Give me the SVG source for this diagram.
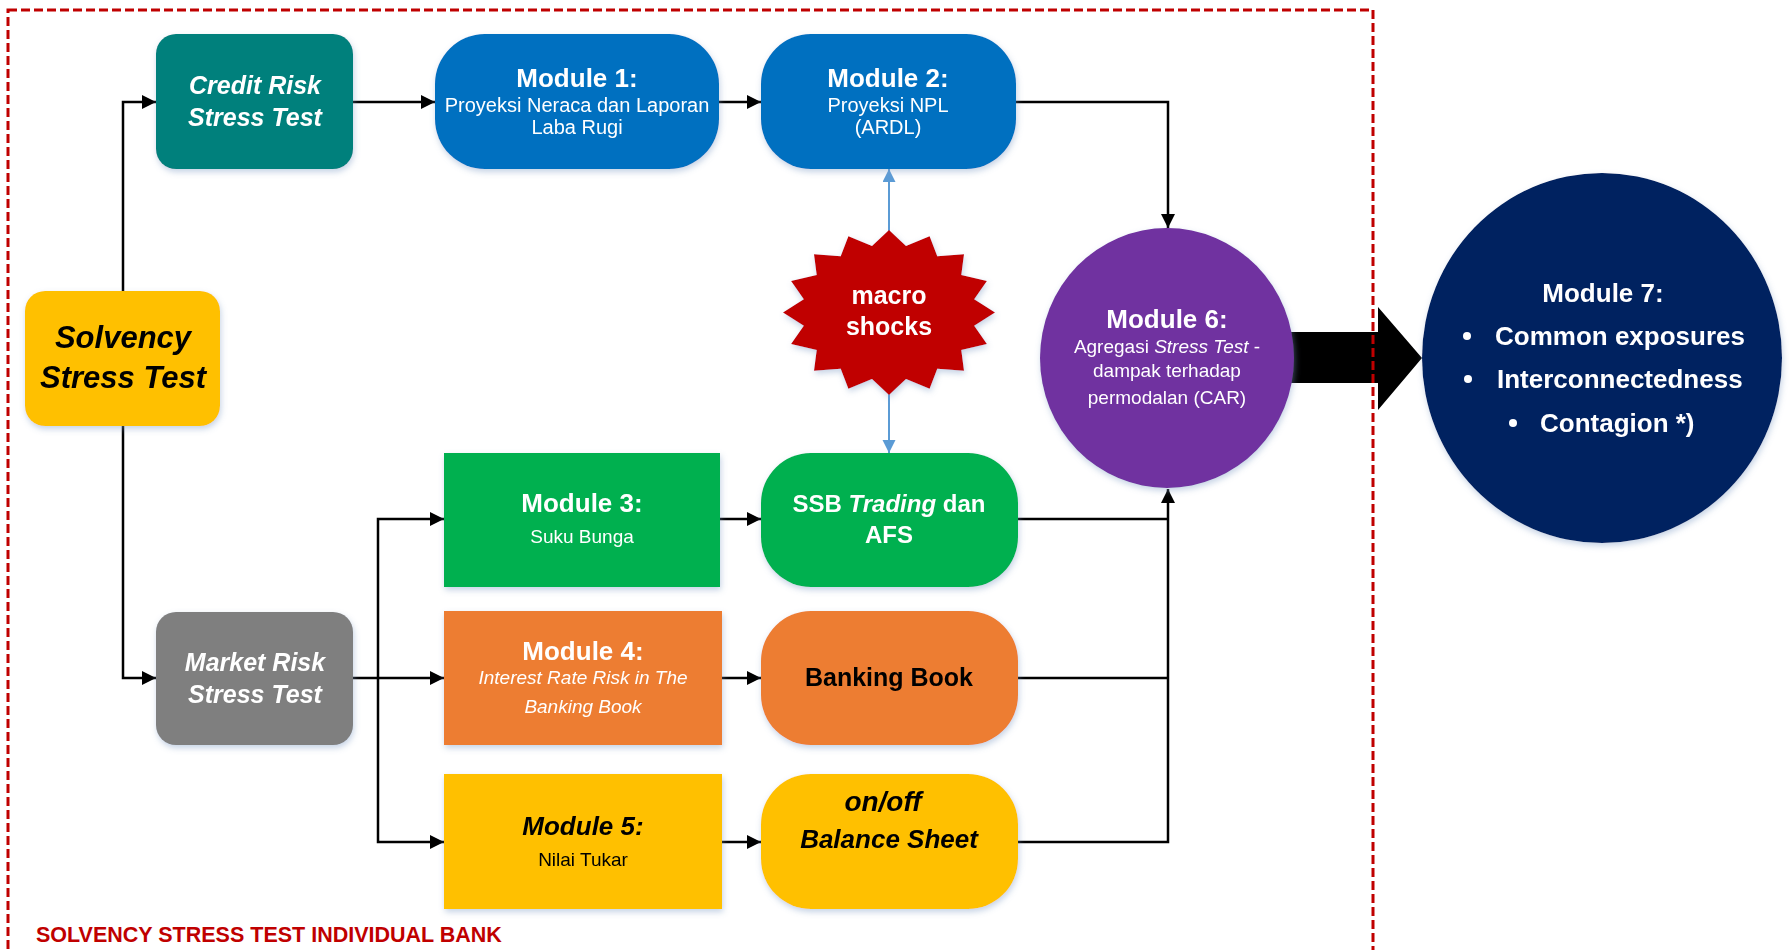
<svg xmlns="http://www.w3.org/2000/svg" width="1789" height="950" viewBox="0 0 1789 950">
  <style>
    text { font-family: "Liberation Sans", Arial, sans-serif; text-anchor: middle; }
    .w { fill: #FFFFFF; }
    .k { fill: #000000; }
    .title { font-size: 26px; font-weight: bold; }
    .body { font-size: 20px; }
    .bi { font-weight: bold; font-style: italic; }
    .conn { fill: none; stroke: #000000; stroke-width: 2.5; }
    .shock { fill: none; stroke: #5B9BD5; stroke-width: 2; }
    .node { filter: url(#shadow); }
  </style>
  <defs>
    <filter id="shadow" x="-20%" y="-20%" width="140%" height="150%">
      <feDropShadow dx="1" dy="3" stdDeviation="3" flood-color="#7F9CC4" flood-opacity="0.45"/>
    </filter>
    <marker id="arrow" markerUnits="userSpaceOnUse" markerWidth="15" markerHeight="15" refX="14" refY="7" orient="auto">
      <path d="M0,0 L14,7 L0,14 Z" fill="#000000"/>
    </marker>
    <marker id="arrowBlue" markerUnits="userSpaceOnUse" markerWidth="14" markerHeight="14" refX="13" refY="6.5" orient="auto">
      <path d="M0,0 L13,6.5 L0,13 Z" fill="#5B9BD5"/>
    </marker>
  </defs>

  <rect width="1789" height="950" fill="#FFFFFF"/>

  <!-- connectors -->
  <g id="connectors">
    <path class="conn" d="M123,291 V102 H156" marker-end="url(#arrow)"/>
    <path class="conn" d="M123,426 V678 H156" marker-end="url(#arrow)"/>
    <path class="conn" d="M353,102 H435" marker-end="url(#arrow)"/>
    <path class="conn" d="M719,102 H761" marker-end="url(#arrow)"/>
    <path class="conn" d="M1015,102 H1168 V228" marker-end="url(#arrow)"/>
    <path class="conn" d="M353,678 H444" marker-end="url(#arrow)"/>
    <path class="conn" d="M378,678 V519 H444" marker-end="url(#arrow)"/>
    <path class="conn" d="M378,678 V842 H444" marker-end="url(#arrow)"/>
    <path class="conn" d="M720,519 H761" marker-end="url(#arrow)"/>
    <path class="conn" d="M722,678 H761" marker-end="url(#arrow)"/>
    <path class="conn" d="M722,842 H761" marker-end="url(#arrow)"/>
    <path class="conn" d="M1018,519 H1168"/>
    <path class="conn" d="M1018,678 H1168"/>
    <path class="conn" d="M1018,842 H1168 V489" marker-end="url(#arrow)"/>
    <path class="shock" d="M889,231 V169" marker-end="url(#arrowBlue)"/>
    <path class="shock" d="M889,394 V453" marker-end="url(#arrowBlue)"/>
    <!-- block arrow from aggregation to systemic module -->
    <polygon points="1285,332 1378,332 1378,307 1422,358 1378,410 1378,383 1285,383" fill="#000000"/>
  </g>

  <g id="solvency" class="node">
    <rect x="25" y="291" width="195" height="135" rx="20" fill="#FFC000"/>
    <text class="k bi" x="123" y="348" font-size="31">Solvency</text>
    <text class="k bi" x="123" y="388" font-size="31">Stress Test</text>
  </g>

  <g id="credit-risk" class="node">
    <rect x="156" y="34" width="197" height="135" rx="20" fill="#03807C"/>
    <text class="w bi" x="255" y="94" font-size="25">Credit Risk</text>
    <text class="w bi" x="255" y="126" font-size="25">Stress Test</text>
  </g>

  <g id="market-risk" class="node">
    <rect x="156" y="612" width="197" height="133" rx="20" fill="#7F7F7F"/>
    <text class="w bi" x="255" y="671" font-size="25">Market Risk</text>
    <text class="w bi" x="255" y="703" font-size="25">Stress Test</text>
  </g>

  <g id="module-1" class="node">
    <rect x="435" y="34" width="284" height="135" rx="50" fill="#0070C0"/>
    <text class="w title" x="577" y="87">Module 1:</text>
    <text class="w body" x="577" y="112">Proyeksi Neraca dan Laporan</text>
    <text class="w body" x="577" y="134">Laba Rugi</text>
  </g>

  <g id="module-2" class="node">
    <rect x="761" y="34" width="255" height="135" rx="50" fill="#0070C0"/>
    <text class="w title" x="888" y="87">Module 2:</text>
    <text class="w body" x="888" y="112">Proyeksi NPL</text>
    <text class="w body" x="888" y="134">(ARDL)</text>
  </g>

  <g id="macro-shocks" class="node">
    <polygon fill="#C00000" points="889,230 906,246.1 929.6,236.3 937.3,256.2 964,254.2 961.3,274.9 986.9,280.9 974.2,299.3 995,312.5 974.2,325.7 986.9,344.1 961.3,350.1 964,370.8 937.3,368.8 929.6,388.7 906,378.9 889,395 872,378.9 848.4,388.7 840.7,368.8 814,370.8 816.7,350.1 791.1,344.1 803.8,325.7 783,312.5 803.8,299.3 791.1,280.9 816.7,274.9 814,254.2 840.7,256.2 848.4,236.3 872,246.1"/>
    <text class="w" x="889" y="304" font-size="25" font-weight="bold">macro</text>
    <text class="w" x="889" y="335" font-size="25" font-weight="bold">shocks</text>
  </g>

  <g id="module-3" class="node">
    <rect x="444" y="453" width="276" height="134" fill="#00B050"/>
    <text class="w title" x="582" y="512">Module 3:</text>
    <text class="w" x="582" y="543" font-size="19">Suku Bunga</text>
  </g>

  <g id="module-4" class="node">
    <rect x="444" y="611" width="278" height="134" fill="#ED7D31"/>
    <text class="w title" x="583" y="660">Module 4:</text>
    <text class="w" x="583" y="684" font-size="19" font-style="italic">Interest Rate Risk in The</text>
    <text class="w" x="583" y="713" font-size="19" font-style="italic">Banking Book</text>
  </g>

  <g id="module-5" class="node">
    <rect x="444" y="774" width="278" height="135" fill="#FFC000"/>
    <text class="k bi" x="583" y="835" font-size="26">Module 5:</text>
    <text class="k" x="583" y="866" font-size="19">Nilai Tukar</text>
  </g>

  <g id="ssb-trading-afs" class="node">
    <rect x="761" y="453" width="257" height="134" rx="50" fill="#00B050"/>
    <text class="w" x="889" y="512" font-size="24" font-weight="bold">SSB <tspan font-style="italic">Trading</tspan> dan</text>
    <text class="w" x="889" y="543" font-size="24" font-weight="bold">AFS</text>
  </g>

  <g id="banking-book" class="node">
    <rect x="761" y="611" width="257" height="134" rx="50" fill="#ED7D31"/>
    <text class="k" x="889" y="686" font-size="25" font-weight="bold">Banking Book</text>
  </g>

  <g id="balance-sheet" class="node">
    <rect x="761" y="774" width="257" height="135" rx="50" fill="#FFC000"/>
    <text class="k bi" x="883" y="811" font-size="28">on/off</text>
    <text class="k bi" x="889" y="848" font-size="26">Balance Sheet</text>
  </g>

  <g id="module-6" class="node">
    <ellipse cx="1167" cy="358" rx="127" ry="130" fill="#7030A0"/>
    <text class="w title" x="1167" y="328">Module 6:</text>
    <text class="w" x="1167" y="353" font-size="19">Agregasi <tspan font-style="italic">Stress Test</tspan> -</text>
    <text class="w" x="1167" y="377" font-size="19">dampak terhadap</text>
    <text class="w" x="1167" y="404" font-size="19">permodalan (CAR)</text>
  </g>

  <g id="module-7" class="node">
    <ellipse cx="1602" cy="358" rx="180" ry="185" fill="#002060"/>
    <text class="w title" x="1603" y="302">Module 7:</text>
    <circle cx="1467" cy="336" r="4" fill="#FFFFFF"/>
    <text class="w title" x="1495" y="345" style="text-anchor:start">Common exposures</text>
    <circle cx="1468" cy="379" r="4" fill="#FFFFFF"/>
    <text class="w title" x="1497" y="388" style="text-anchor:start">Interconnectedness</text>
    <circle cx="1513" cy="423" r="4" fill="#FFFFFF"/>
    <text class="w title" x="1540" y="432" style="text-anchor:start">Contagion *)</text>
  </g>

  <!-- boundary of the individual-bank scope -->
  <g id="scope">
    <rect x="8" y="10" width="1365" height="970" fill="none" stroke="#C00000" stroke-width="3" stroke-dasharray="9 4"/>
    <text x="36" y="942" font-size="21.5" font-weight="bold" fill="#C00000" style="text-anchor:start">SOLVENCY STRESS TEST INDIVIDUAL BANK</text>
  </g>
</svg>
